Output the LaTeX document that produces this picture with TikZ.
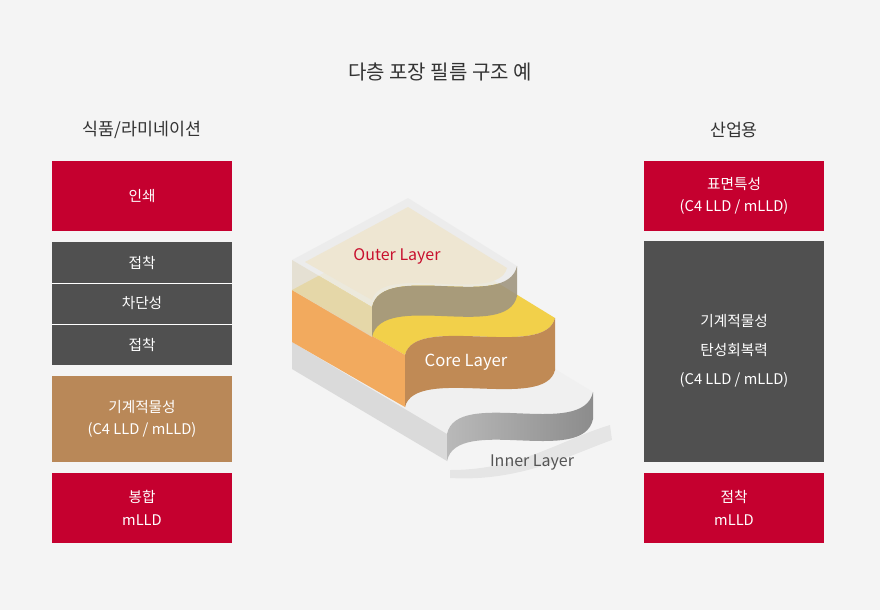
\documentclass[tikz,border=0pt]{standalone}
\usepackage{fontspec}
\setmainfont{Noto Sans CJK KR}
\definecolor{bg}{HTML}{F4F4F4}
\definecolor{cred}{HTML}{C5002F}
\definecolor{cdark}{HTML}{505050}
\definecolor{ctan}{HTML}{B98858}
\definecolor{ctext}{HTML}{333333}
\definecolor{intop}{HTML}{F0F0F0}
\definecolor{inleft}{HTML}{DADADA}
\definecolor{incutA}{HTML}{B9B9B9}
\definecolor{incutB}{HTML}{8C8C8C}
\definecolor{cotop}{HTML}{F2D04A}
\definecolor{coleft}{HTML}{F2AA5E}
\definecolor{cocut}{HTML}{C08A55}
\definecolor{outtop}{HTML}{ECECEC}
\definecolor{outin}{HTML}{EEE6D2}
\definecolor{outleft}{HTML}{E1DAC8}
\definecolor{outcut}{HTML}{A09680}
\definecolor{outred}{HTML}{C8102E}
\definecolor{ingrey}{HTML}{555555}
\begin{document}
\begin{tikzpicture}[x=0.75pt,y=-0.75pt,
  red/.style={fill=cred,draw=none},
  dark/.style={fill=cdark,draw=none},
  tan/.style={fill=ctan,draw=none},
  btxt/.style={text=white,font=\fontsize{11}{17}\selectfont,align=center},
  head/.style={text=ctext,font=\fontsize{13}{16}\selectfont}]
\fill[bg] (0,0) rectangle (880,610);
\useasboundingbox (0,0) rectangle (880,610);
\node[head,font=\fontsize{15}{18}\selectfont] (title) at (440,72) {다층 포장 필름 구조 예};
\node[head] (hl) at (142,130) {식품/라미네이션};
\node[head] (hr) at (734,130) {산업용};
% left column
\fill[red] (52,161) rectangle (232,231); \node[btxt] (l1) at (142,196) {인쇄};
\fill[dark] (52,242) rectangle (232,365);
\draw[white,line width=0.75pt] (52,283) -- (232,283) (52,324) -- (232,324);
\node[btxt] (l2) at (142,262.5) {접착};
\node[btxt] (l3) at (142,303.5) {차단성};
\node[btxt] (l4) at (142,344.5) {접착};
\fill[tan] (52,376) rectangle (232,462); \node[btxt] (l5) at (142,419) {기계적물성\\(C4 LLD / mLLD)};
\fill[red] (52,473) rectangle (232,543); \node[btxt] (l6) at (142,508) {봉합\\mLLD};
% right column
\fill[red] (644,161) rectangle (824,231); \node[btxt] (r1) at (734,196) {표면특성\\(C4 LLD / mLLD)};
\fill[dark] (644,241) rectangle (824,462); \node[btxt,font=\fontsize{11}{22}\selectfont] (r2) at (734,351) {기계적물성\\탄성회복력\\(C4 LLD / mLLD)};
\fill[red] (644,473) rectangle (824,543); \node[btxt] (r3) at (734,508) {점착\\mLLD};
% shadow
\fill[black,opacity=0.06] (450,470) .. controls (520,470) and (560,440) .. (610,425) -- (612,440) .. controls (570,455) and (520,482) .. (450,478) -- cycle;
% inner layer
\fill[intop] (292,342) -- (408,280) -- (593,392) .. controls (583,440) and (457,387) .. (447,434) -- cycle;
\fill[inleft] (292,342) -- (447,434) -- (447,461) -- (292,369) -- cycle;
\shade[left color=incutA,right color=incutB] (593,392) .. controls (583,440) and (457,387) .. (447,434) -- (447,461) .. controls (457,414) and (583,467) .. (593,419) -- cycle;
% core layer
\fill[cotop] (292,290) -- (408,228) -- (555,318) .. controls (545,360) and (415,313) .. (405,355) -- cycle;
\fill[coleft] (292,290) -- (405,355) -- (405,407) -- (292,342) -- cycle;
\fill[cocut] (555,318) .. controls (545,360) and (415,313) .. (405,355) -- (405,407) .. controls (415,365) and (545,412) .. (555,370) -- cycle;
% outer layer (glass)
\fill[outtop,opacity=0.9] (292,260) -- (408,198) -- (517,266) .. controls (507,312) and (382,260) .. (372,307) -- cycle;
\fill[outin] (305,262) -- (408,207) -- (507,268) .. controls (497,305) and (382,262) .. (372,300) -- cycle;
\fill[outleft,opacity=0.75] (292,260) -- (372,307) -- (372,337) -- (292,290) -- cycle;
\fill[outcut,opacity=0.9] (517,266) .. controls (507,312) and (382,260) .. (372,307) -- (372,337) .. controls (382,290) and (507,342) .. (517,296) -- cycle;
\node[text=outred,font=\fontsize{12}{14}\selectfont] (outer) at (397,256) {Outer Layer};
\node[text=white,font=\fontsize{12.5}{14}\selectfont] (core) at (466,362) {Core Layer};
\node[text=ingrey,font=\fontsize{12}{14}\selectfont] (inner) at (532,463) {Inner Layer};
\end{tikzpicture}
\end{document}
